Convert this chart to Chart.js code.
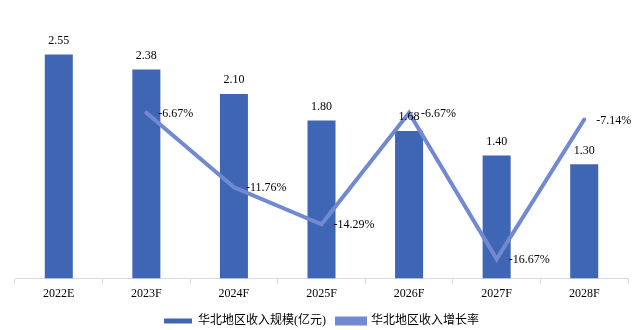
<!DOCTYPE html>
<html>
<head>
<meta charset="utf-8">
<script src="https://cdn.jsdelivr.net/npm/chart.js@4"></script>
<style>
    html, body { margin: 0; padding: 0; background: #fff; }
    #wrap { width: 643px; height: 330px; }
</style>
</head>
<body>
<div id="wrap"><canvas id="revenueChart"></canvas></div>
<script>
// categories and series
const years = ['2022E', '2023F', '2024F', '2025F', '2026F', '2027F', '2028F'];
const revenue = [2.55, 2.38, 2.10, 1.80, 1.68, 1.40, 1.30];
const growth = [null, -6.67, -11.76, -14.29, -6.67, -16.67, -7.14];
const seriesNames = ['华北地区收入规模(亿元)', '华北地区收入增长率'];

const barColor = '#3f66b4';
const lineColor = '#7189d0';
const fontFamily = "'Liberation Serif', 'Times New Roman', 'Noto Sans CJK SC', serif";

// value labels: above bars, right of line points
const valueLabels = {
    id: 'valueLabels',
    afterDatasetsDraw(chart) {
        const ctx = chart.ctx;
        ctx.save();
        ctx.font = '12px ' + fontFamily;
        ctx.fillStyle = '#000';

        chart.getDatasetMeta(0).data.forEach((bar, i) => {
            ctx.textAlign = 'center';
            ctx.textBaseline = 'bottom';
            ctx.fillText(revenue[i].toFixed(2), bar.x, bar.y - 8);
        });

        chart.getDatasetMeta(1).data.forEach((pt, i) => {
            if (growth[i] === null) return;
            ctx.textAlign = 'left';
            ctx.textBaseline = 'middle';
            ctx.fillText(growth[i].toFixed(2) + '%', pt.x + 12, pt.y + 1);
        });
        ctx.restore();
    }
};

const ctx = document.getElementById('revenueChart').getContext('2d');
new Chart(ctx, {
    type: 'bar',
    data: {
        labels: years,
        datasets: [{
            label: seriesNames[0],
            data: revenue,
            backgroundColor: barColor,
            barPercentage: 0.64,
            categoryPercentage: 0.5,
            yAxisID: 'y',
            order: 1
        }, {
            type: 'line',
            label: seriesNames[1],
            data: growth,
            borderColor: lineColor,
            backgroundColor: lineColor,
            borderWidth: 4,
            borderCapStyle: 'round',
            pointRadius: 0,
            tension: 0,
            yAxisID: 'y1',
            order: 0
        }]
    },
    options: {
        responsive: true,
        maintainAspectRatio: false,
        animation: false,
        layout: { padding: { left: 15, right: 15, top: 15, bottom: -7 } },
        plugins: {
            tooltip: { enabled: false },
            legend: {
                position: 'bottom',
                labels: {
                    boxWidth: 28,
                    boxHeight: 5,
                    padding: 11,
                    color: '#000',
                    font: { family: fontFamily, size: 12 },
                    // keep the bar series first in the legend
                    sort: (a, b) => a.datasetIndex - b.datasetIndex
                }
            }
        },
        scales: {
            x: {
                grid: {
                    drawOnChartArea: false,
                    tickLength: 5,
                    color: '#d9d9d9'
                },
                border: { color: '#d9d9d9' },
                ticks: {
                    padding: 3,
                    color: '#000',
                    font: { family: fontFamily, size: 12 }
                }
            },
            y: {
                display: false,
                min: 0,
                max: 3
            },
            y1: {
                display: false,
                position: 'right',
                min: -18,
                max: 0
            }
        }
    },
    plugins: [valueLabels]
});
</script>
</body>
</html>
